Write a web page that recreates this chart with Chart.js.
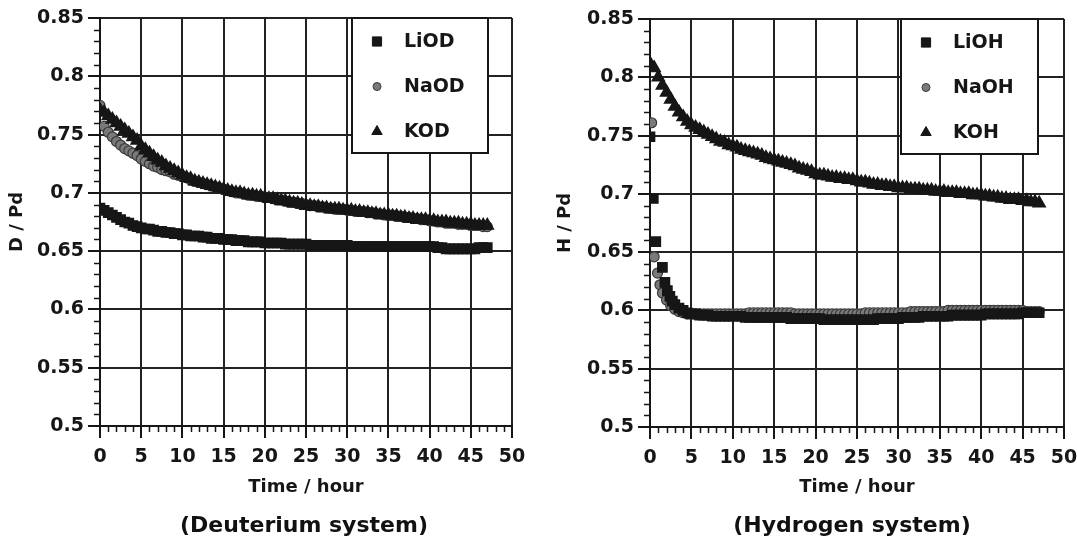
<!DOCTYPE html>
<html>
<head>
<meta charset="utf-8">
<title>D/Pd and H/Pd vs time</title>
<script src="https://cdn.jsdelivr.net/npm/chart.js@4.4.1/dist/chart.umd.min.js"></script>
<style>
  html, body { margin: 0; padding: 0; background: #fff; }
  #wrap { position: relative; width: 1077px; height: 543px; overflow: hidden; }
  canvas { position: absolute; top: 0; }
  #chartD { left: 0; }
  #chartH { left: 540px; }
  .caption {
    position: absolute; top: 524px;
    transform: translate(-50%, -50%);
    font: bold 22px 'DejaVu Sans', sans-serif; color: #111; white-space: nowrap;
  }
</style>
</head>
<body>
<div id="wrap">
  <canvas id="chartD" width="540" height="543"></canvas>
  <canvas id="chartH" width="554" height="543"></canvas>
  <div class="caption" style="left:304px">(Deuterium system)</div>
  <div class="caption" style="left:852px">(Hydrogen system)</div>
</div>
<script>
// axis ticks
const xTicks = [0, 5, 10, 15, 20, 25, 30, 35, 40, 45, 50];
const yTicks = [0.5, 0.55, 0.6, 0.65, 0.7, 0.75, 0.8, 0.85];

// sampling times (hour)
const hours = [
  0, 0.5, 1, 1.5, 2, 2.5, 3, 3.5, 4, 4.5,
  5, 5.5, 6, 6.5, 7, 7.5, 8, 8.5, 9, 9.5,
  10, 10.5, 11, 11.5, 12, 12.5, 13, 13.5, 14, 14.5,
  15, 15.5, 16, 16.5, 17, 17.5, 18, 18.5, 19, 19.5,
  20, 20.5, 21, 21.5, 22, 22.5, 23, 23.5, 24, 24.5,
  25, 25.5, 26, 26.5, 27, 27.5, 28, 28.5, 29, 29.5,
  30, 30.5, 31, 31.5, 32, 32.5, 33, 33.5, 34, 34.5,
  35, 35.5, 36, 36.5, 37, 37.5, 38, 38.5, 39, 39.5,
  40, 40.5, 41, 41.5, 42, 42.5, 43, 43.5, 44, 44.5,
  45, 45.5, 46, 46.5, 47
];

// Deuterium system: D / Pd
const liodValues = [
  0.687, 0.685, 0.683, 0.681, 0.679, 0.677, 0.675, 0.674, 0.672, 0.671,
  0.670, 0.669, 0.669, 0.668, 0.667, 0.667, 0.666, 0.666, 0.665, 0.665,
  0.664, 0.664, 0.663, 0.663, 0.663, 0.662, 0.662, 0.661, 0.661, 0.661,
  0.660, 0.660, 0.660, 0.659, 0.659, 0.659, 0.658, 0.658, 0.658, 0.658,
  0.657, 0.657, 0.657, 0.657, 0.657, 0.656, 0.656, 0.656, 0.656, 0.656,
  0.656, 0.655, 0.655, 0.655, 0.655, 0.655, 0.655, 0.655, 0.655, 0.655,
  0.655, 0.654, 0.654, 0.654, 0.654, 0.654, 0.654, 0.654, 0.654, 0.654,
  0.654, 0.654, 0.654, 0.654, 0.654, 0.654, 0.654, 0.654, 0.654, 0.654,
  0.654, 0.654, 0.653, 0.653, 0.652, 0.652, 0.652, 0.652, 0.652, 0.652,
  0.652, 0.652, 0.653, 0.653, 0.653
];
const naodValues = [
  0.775, 0.757, 0.752, 0.748, 0.744, 0.741, 0.738, 0.736, 0.734, 0.732,
  0.729, 0.727, 0.725, 0.723, 0.722, 0.720, 0.719, 0.718, 0.716, 0.715,
  0.714, 0.713, 0.711, 0.710, 0.709, 0.708, 0.707, 0.706, 0.705, 0.704,
  0.703, 0.702, 0.701, 0.700, 0.700, 0.699, 0.698, 0.698, 0.697, 0.697,
  0.696, 0.696, 0.695, 0.694, 0.694, 0.693, 0.692, 0.692, 0.691, 0.691,
  0.690, 0.689, 0.689, 0.688, 0.688, 0.687, 0.687, 0.686, 0.686, 0.686,
  0.685, 0.685, 0.684, 0.684, 0.684, 0.683, 0.683, 0.682, 0.682, 0.681,
  0.681, 0.681, 0.680, 0.680, 0.679, 0.679, 0.678, 0.678, 0.677, 0.677,
  0.676, 0.676, 0.675, 0.675, 0.674, 0.674, 0.674, 0.673, 0.673, 0.673,
  0.672, 0.672, 0.672, 0.671, 0.671
];
const kodValues = [
  0.771, 0.769, 0.766, 0.763, 0.760, 0.757, 0.754, 0.751, 0.748, 0.745,
  0.740, 0.737, 0.734, 0.731, 0.728, 0.726, 0.723, 0.721, 0.719, 0.717,
  0.715, 0.713, 0.712, 0.710, 0.709, 0.708, 0.707, 0.706, 0.705, 0.704,
  0.703, 0.702, 0.701, 0.700, 0.700, 0.699, 0.698, 0.698, 0.697, 0.697,
  0.696, 0.695, 0.695, 0.694, 0.693, 0.693, 0.692, 0.691, 0.691, 0.690,
  0.689, 0.689, 0.688, 0.688, 0.687, 0.687, 0.686, 0.686, 0.686, 0.685,
  0.685, 0.685, 0.684, 0.684, 0.683, 0.683, 0.682, 0.682, 0.681, 0.681,
  0.681, 0.680, 0.680, 0.679, 0.679, 0.678, 0.678, 0.677, 0.677, 0.677,
  0.676, 0.676, 0.675, 0.675, 0.675, 0.674, 0.674, 0.674, 0.673, 0.673,
  0.673, 0.672, 0.672, 0.672, 0.672
];

// Hydrogen system: H / Pd (the first hours are sampled more sparsely)
const liohHours = [0, 0.4, 0.7, 1.5, 1.8, 2.1, 2.4, 2.7, 3, 3.5, 4, 4.5].concat(hours.slice(10));
const liohValues = [
  0.749, 0.696, 0.659, 0.637, 0.624, 0.617, 0.612, 0.608, 0.605, 0.602, 0.600, 0.598,
  0.597, 0.597, 0.596, 0.596, 0.596, 0.595, 0.595, 0.595, 0.595, 0.595,
  0.595, 0.595, 0.595, 0.594, 0.594, 0.594, 0.594, 0.594, 0.594, 0.594,
  0.594, 0.594, 0.594, 0.594, 0.593, 0.593, 0.593, 0.593, 0.593, 0.593,
  0.593, 0.593, 0.592, 0.592, 0.592, 0.592, 0.592, 0.592, 0.592, 0.592,
  0.592, 0.592, 0.592, 0.592, 0.592, 0.593, 0.593, 0.593, 0.593, 0.593,
  0.593, 0.594, 0.594, 0.594, 0.594, 0.594, 0.595, 0.595, 0.595, 0.595,
  0.595, 0.595, 0.595, 0.596, 0.596, 0.596, 0.596, 0.596, 0.596, 0.596,
  0.596, 0.597, 0.597, 0.597, 0.597, 0.597, 0.597, 0.597, 0.597, 0.597,
  0.598, 0.598, 0.598, 0.598, 0.598
];
const naohHours = [0.2, 0.5, 0.9, 1.2, 1.5, 2, 2.5, 3, 3.5, 4, 4.5].concat(hours.slice(10));
const naohValues = [
  0.761, 0.646, 0.632, 0.622, 0.615, 0.609, 0.604, 0.601, 0.599, 0.598, 0.597,
  0.597, 0.597, 0.597, 0.597, 0.597, 0.597, 0.597, 0.597, 0.597, 0.597,
  0.597, 0.597, 0.597, 0.597, 0.598, 0.598, 0.598, 0.598, 0.598, 0.598,
  0.598, 0.598, 0.598, 0.598, 0.598, 0.597, 0.597, 0.597, 0.597, 0.597,
  0.597, 0.597, 0.597, 0.597, 0.597, 0.597, 0.597, 0.597, 0.597, 0.597,
  0.597, 0.597, 0.598, 0.598, 0.598, 0.598, 0.598, 0.598, 0.598, 0.598,
  0.598, 0.598, 0.598, 0.599, 0.599, 0.599, 0.599, 0.599, 0.599, 0.599,
  0.599, 0.599, 0.600, 0.600, 0.600, 0.600, 0.600, 0.600, 0.600, 0.600,
  0.600, 0.600, 0.600, 0.600, 0.600, 0.600, 0.600, 0.600, 0.600, 0.600,
  0.600, 0.599, 0.599, 0.599, 0.599
];
const kohValues = [
  0.812, 0.808, 0.800, 0.793, 0.787, 0.781, 0.775, 0.770, 0.766, 0.762,
  0.759, 0.757, 0.755, 0.753, 0.751, 0.749, 0.747, 0.745, 0.744, 0.742,
  0.741, 0.740, 0.738, 0.737, 0.736, 0.735, 0.734, 0.733, 0.731, 0.730,
  0.729, 0.728, 0.727, 0.726, 0.725, 0.724, 0.722, 0.721, 0.720, 0.719,
  0.717, 0.716, 0.716, 0.715, 0.714, 0.714, 0.713, 0.713, 0.712, 0.712,
  0.711, 0.710, 0.710, 0.709, 0.708, 0.708, 0.707, 0.707, 0.706, 0.706,
  0.705, 0.705, 0.705, 0.704, 0.704, 0.704, 0.703, 0.703, 0.703, 0.702,
  0.702, 0.702, 0.701, 0.701, 0.701, 0.700, 0.700, 0.700, 0.699, 0.699,
  0.699, 0.698, 0.698, 0.697, 0.697, 0.696, 0.696, 0.695, 0.695, 0.695,
  0.694, 0.694, 0.693, 0.693, 0.692
];

const ink = '#161616';
const fontFamily = "'DejaVu Sans', sans-serif";
Chart.defaults.font.family = fontFamily;
Chart.defaults.font.weight = 'bold';
Chart.defaults.color = ink;

function points(xs, ys) {
  return xs.map((t, i) => ({ x: t, y: ys[i] }));
}

// small ticks between the labelled ones (1 hour, 0.01)
const minorTicks = {
  id: 'minorTicks',
  afterDraw(chart) {
    const { ctx, chartArea, scales: { x, y } } = chart;
    ctx.save();
    ctx.strokeStyle = ink;
    ctx.lineWidth = 1.5;
    ctx.beginPath();
    for (let i = 1; i < (x.max - x.min); i++) {
      if (i % 5 === 0) continue;
      const px = Math.round(x.getPixelForValue(x.min + i)) + 0.5;
      ctx.moveTo(px, chartArea.bottom);
      ctx.lineTo(px, chartArea.bottom + 6);
    }
    const ySteps = Math.round((y.max - y.min) * 100);
    for (let i = 1; i < ySteps; i++) {
      if (i % 5 === 0) continue;
      const py = Math.round(y.getPixelForValue(y.min + i / 100)) + 0.5;
      ctx.moveTo(chartArea.left, py);
      ctx.lineTo(chartArea.left - 6, py);
    }
    ctx.stroke();
    ctx.restore();
  }
};

// framed legend in the top right corner of the plot
const boxLegend = {
  id: 'boxLegend',
  afterDatasetsDraw(chart, args, opts) {
    const { ctx, chartArea } = chart;
    const x0 = chartArea.right - opts.right - opts.width;
    const y0 = chartArea.top;
    ctx.save();
    ctx.fillStyle = '#fff';
    ctx.fillRect(x0, y0, opts.width, opts.height);
    ctx.lineWidth = 2;
    ctx.strokeStyle = ink;
    ctx.strokeRect(x0, y0, opts.width, opts.height);
    chart.data.datasets.forEach((ds, i) => {
      const cy = y0 + opts.firstRow + i * opts.rowGap;
      ctx.fillStyle = ds.backgroundColor;
      ctx.strokeStyle = ds.borderColor;
      ctx.lineWidth = 1;
      Chart.helpers.drawPoint(ctx, {
        pointStyle: ds.pointStyle,
        radius: opts.markerRadius[ds.pointStyle],
        borderWidth: 1
      }, x0 + opts.markerX, cy);
      ctx.fillStyle = ink;
      ctx.font = 'bold 19px ' + fontFamily;
      ctx.textBaseline = 'middle';
      ctx.textAlign = 'left';
      ctx.fillText(ds.label, x0 + opts.textX, cy + 1);
    });
    ctx.restore();
  }
};

function makeDatasets(names, series) {
  return [
    { label: names[0], data: series[0], pointStyle: 'rect', pointRadius: 6.5,
      backgroundColor: ink, borderColor: ink, borderWidth: 1.5, order: 0 },
    { label: names[1], data: series[1], pointStyle: 'circle', pointRadius: 5,
      backgroundColor: '#7a7a7a', borderColor: '#3a3a3a', borderWidth: 1.2, order: 2 },
    { label: names[2], data: series[2], pointStyle: 'triangle', pointRadius: 7,
      backgroundColor: ink, borderColor: ink, borderWidth: 1.5, order: 1 }
  ];
}

function makeChart(canvas, cfg) {
  const gridStyle = { color: '#222', lineWidth: 2, tickLength: 12, tickWidth: 2, tickColor: ink };
  return new Chart(canvas, {
    type: 'scatter',
    data: { datasets: cfg.datasets },
    options: {
      responsive: false,
      animation: false,
      devicePixelRatio: 1,
      layout: { padding: { left: 0, top: cfg.top, right: cfg.right, bottom: 0 } },
      plugins: {
        legend: { display: false },
        tooltip: { enabled: false },
        boxLegend: {
          width: cfg.legendWidth, height: 135, right: cfg.legendRight,
          markerX: 25, textX: 52, firstRow: 23.5, rowGap: 45,
          markerRadius: { rect: 6.5, circle: 4, triangle: 6 }
        }
      },
      scales: {
        x: {
          type: 'linear',
          min: 0,
          max: 50,
          afterBuildTicks: s => { s.ticks = xTicks.map(v => ({ value: v })); },
          afterFit: s => { s.height = 543 - cfg.bottom; },
          grid: gridStyle,
          border: { color: ink, width: 2 },
          ticks: { font: { size: 19 }, padding: 8, maxRotation: 0, autoSkip: false,
                   callback: v => String(v) },
          title: { display: true, text: 'Time / hour', font: { size: 18 },
                   padding: { top: 0, bottom: 45 } }
        },
        y: {
          min: 0.5,
          max: 0.85,
          afterBuildTicks: s => { s.ticks = yTicks.map(v => ({ value: v })); },
          afterFit: s => { s.width = cfg.left; },
          grid: gridStyle,
          border: { color: ink, width: 2 },
          ticks: { font: { size: 19 }, padding: 4, autoSkip: false,
                   callback: v => String(Math.round(v * 100) / 100) },
          title: { display: true, text: cfg.yTitle, font: { size: 18 },
                   padding: { top: cfg.yTitlePad, bottom: 0 } }
        }
      }
    },
    plugins: [minorTicks, boxLegend]
  });
}

makeChart(document.getElementById('chartD'), {
  left: 100, right: 28, top: 18, bottom: 426,
  yTitle: 'D / Pd', yTitlePad: 7,
  legendWidth: 136, legendRight: 24,
  datasets: makeDatasets(['LiOD', 'NaOD', 'KOD'], [
    points(hours, liodValues),
    points(hours, naodValues),
    points(hours, kodValues)
  ])
});

// this canvas is wider than the visible half so the plot can reach x = 1064
makeChart(document.getElementById('chartH'), {
  left: 110, right: 30, top: 19, bottom: 427,
  yTitle: 'H / Pd', yTitlePad: 15,
  legendWidth: 137, legendRight: 26,
  datasets: makeDatasets(['LiOH', 'NaOH', 'KOH'], [
    points(liohHours, liohValues),
    points(naohHours, naohValues),
    points(hours, kohValues)
  ])
});
</script>
</body>
</html>
